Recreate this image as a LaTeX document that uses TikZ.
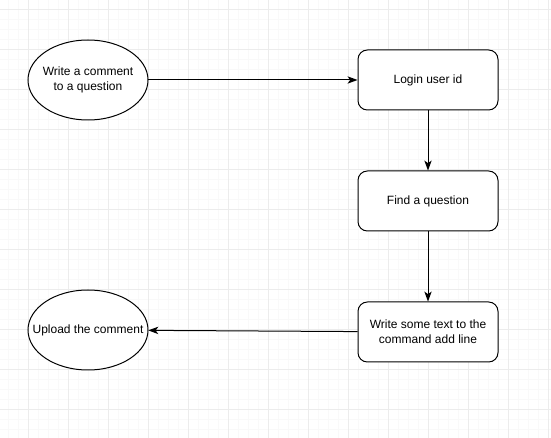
\documentclass[tikz,border=0pt]{standalone}
\usepackage{xcolor}
\usepackage{fontspec}
\setmainfont{Liberation Sans}
\usepackage{tikz}
\usetikzlibrary{shapes,positioning,arrows.meta}

\definecolor{gridminor}{HTML}{F9F9F9}
\definecolor{gridmajor}{HTML}{ECECEC}

\tikzset{
  usecase/.style={minimum width=90pt,minimum height=60pt,inner sep=0pt,
    align=center,font=\fontsize{9}{11}\selectfont},
  ring/.style={draw,fill=white,line width=0.75pt},
  stepbox/.style={draw,fill=white,rounded corners=7pt,line width=0.75pt,minimum width=105pt,
    minimum height=45pt,align=center,font=\fontsize{9}{11}\selectfont},
  flow/.style={line width=0.75pt,-{Stealth[length=7.5pt,width=5.5pt,inset=2pt]}}
}

\begin{document}
\begin{tikzpicture}[x=0.75pt,y=-0.75pt]
\useasboundingbox (0,0) rectangle (551,438);
\fill[white] (0,0) rectangle (551,438);

% grid
\foreach \x in {8,18,...,548} \draw[gridminor,line width=0.75pt] (\x,0) -- (\x,438);
\foreach \y in {0,10,...,430} \draw[gridminor,line width=0.75pt] (0,\y) -- (551,\y);
\foreach \x in {28,68,...,548} \draw[gridmajor,line width=0.75pt] (\x,0) -- (\x,438);
\foreach \y in {10,50,...,430} \draw[gridmajor,line width=0.75pt] (0,\y) -- (551,\y);

% use cases
\draw[ring] (88,80) ellipse [x radius=45pt,y radius=30pt];
\draw[ring] (88,330) ellipse [x radius=45pt,y radius=30pt];
\node[usecase] (write) at (88,80) {Write a comment\\to a question};
\node[usecase] (upload) at (88,330) {Upload the comment};

% steps
\node[stepbox] (login) at (428,80) {Login user id};
\node[stepbox,below=45pt of login] (find) {Find a question};
\node[stepbox,below=52.5pt of find] (text) {Write some text to the\\command add line};

\draw[flow] (write) -- (login);
\draw[flow] (login) -- (find);
\draw[flow] (find) -- (text);
\draw[flow] (text) -- (upload);

\end{tikzpicture}
\end{document}
